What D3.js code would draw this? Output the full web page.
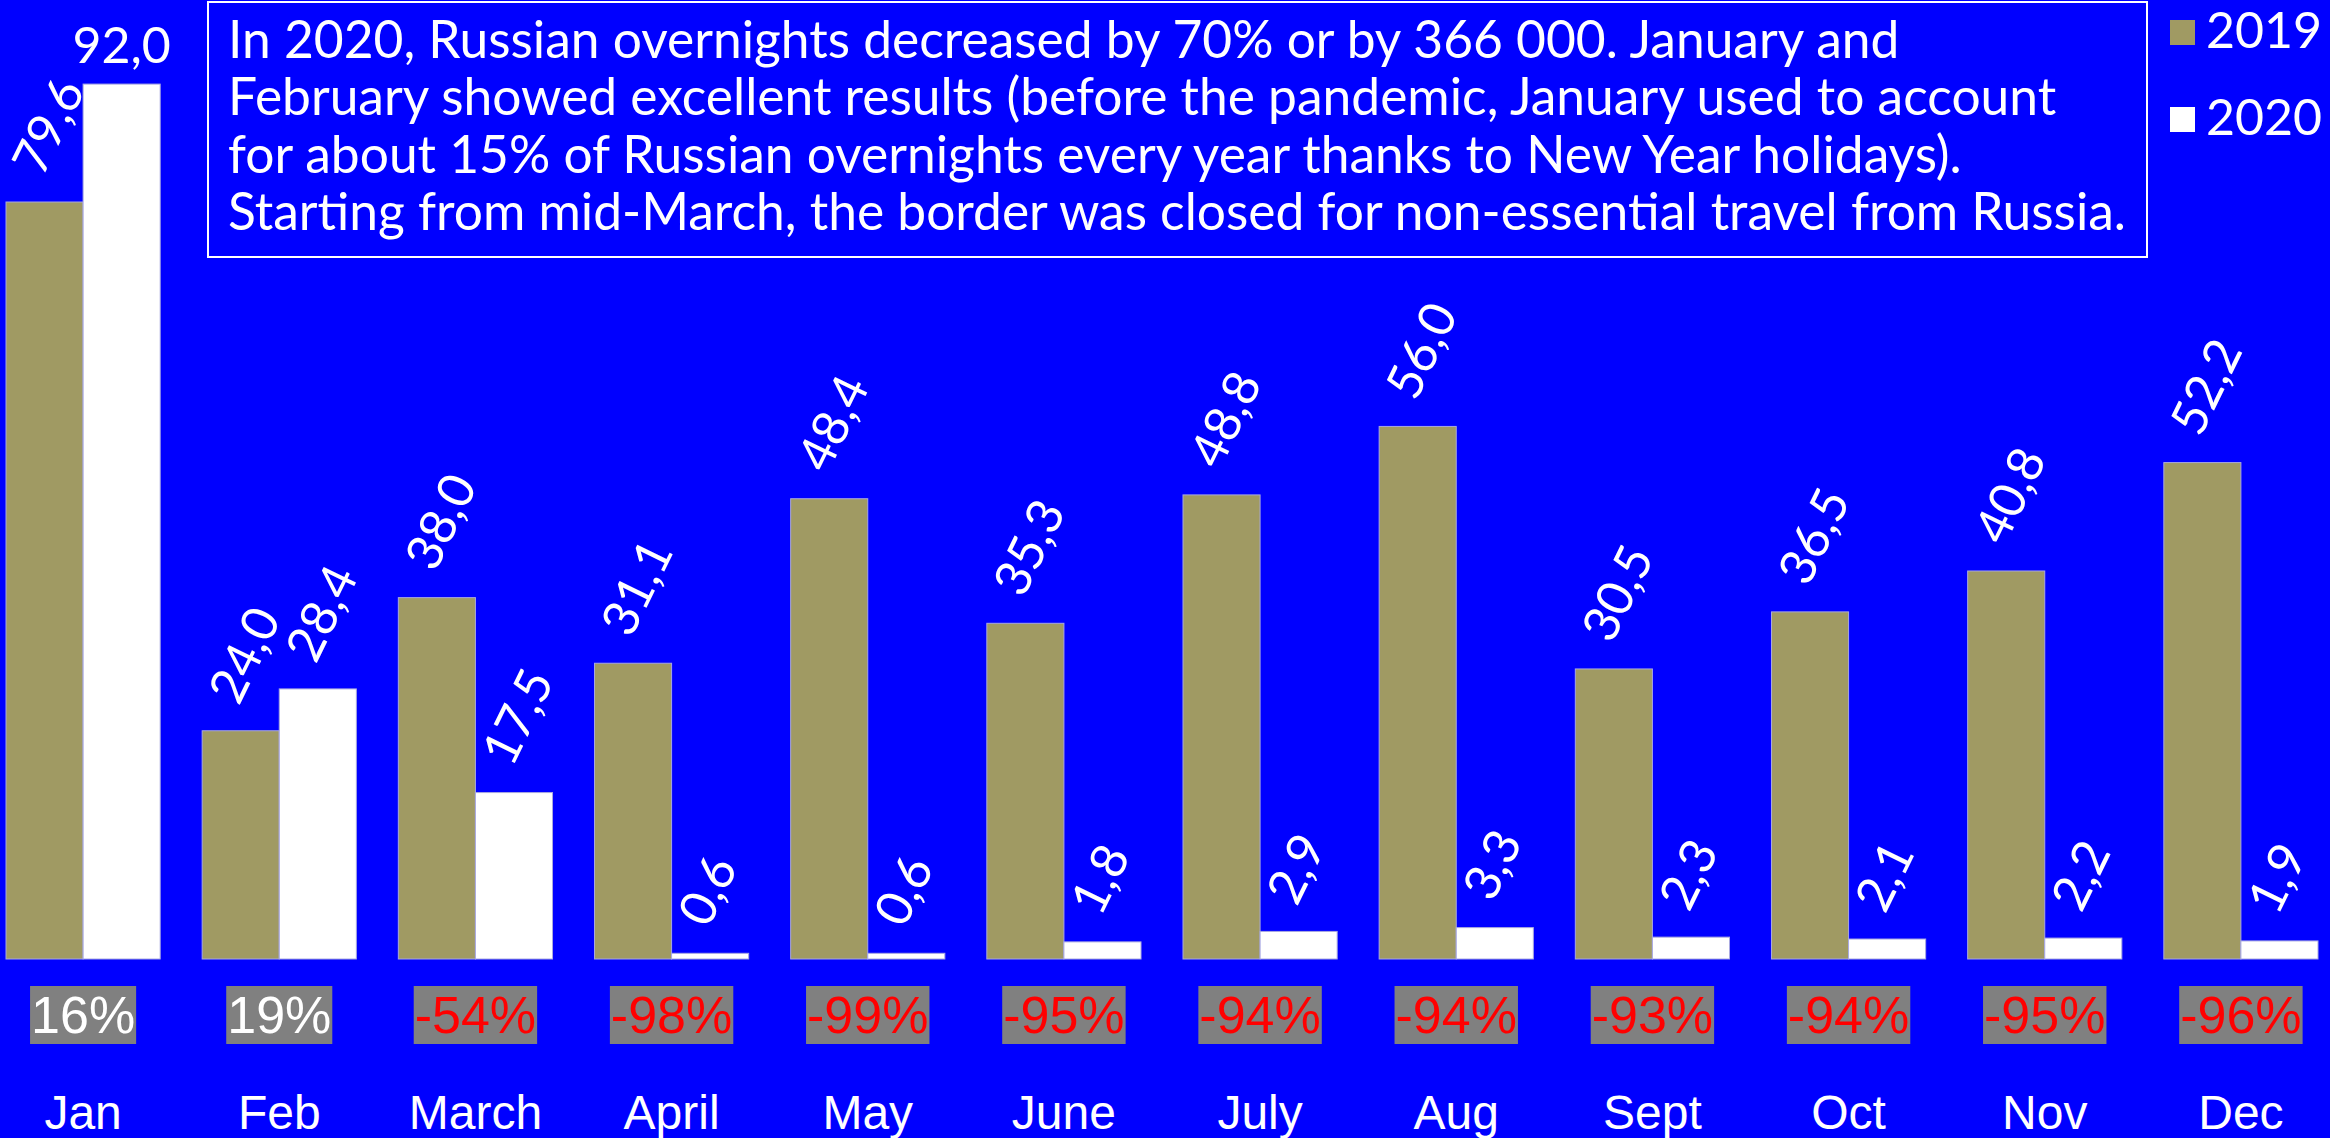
<!DOCTYPE html>
<html>
<head>
<meta charset="utf-8">
<script src="https://cdn.jsdelivr.net/npm/d3@7"></script>
<style>
  html, body { margin: 0; padding: 0; background: #0000ff; overflow: hidden; }
  svg { display: block; }
</style>
</head>
<body>
<svg id="chart" width="2330" height="1138"></svg>
<script>
const months = ["Jan","Feb","March","April","May","June","July","Aug","Sept","Oct","Nov","Dec"];
const seriesNames = ["2019","2020"];
const values2019 = [79.6, 24.0, 38.0, 31.1, 48.4, 35.3, 48.8, 56.0, 30.5, 36.5, 40.8, 52.2];
const values2020 = [92.0, 28.4, 17.5, 0.6, 0.6, 1.8, 2.9, 3.3, 2.3, 2.1, 2.2, 1.9];
const changes = [16, 19, -54, -98, -99, -95, -94, -94, -93, -94, -95, -96];
const noteLines = [
  "In 2020, Russian overnights decreased by 70% or by 366 000. January and",
  "February showed excellent results (before the pandemic, January used to account",
  "for about 15% of Russian overnights every year thanks to New Year holidays).",
  "Starting from mid-March, the border was closed for non-essential travel from Russia."
];

const colors = { "2019": "#a09a63", "2020": "#ffffff" };
const BG = "#0000ff";
const geo = "Lato, 'Open Sans', sans-serif";
const arial = "'Liberation Sans', Arial, sans-serif";

const svg = d3.select("#chart");
svg.append("rect").attr("width", 2330).attr("height", 1138).attr("fill", BG);

const x0 = d3.scaleBand().domain(months).range([6, 2318]).paddingInner(0.214).paddingOuter(0);
const x1 = d3.scaleBand().domain(seriesNames).range([0, x0.bandwidth()]).padding(0);
const y = d3.scaleLinear().domain([0, 100]).range([959, 8]);

const rows = months.map((m, i) => ({ month: m, vals: [
  { key: "2019", value: values2019[i] },
  { key: "2020", value: values2020[i] }
], change: changes[i] }));

const groups = svg.append("g").selectAll("g.grp").data(rows).join("g")
  .attr("class", "grp")
  .attr("transform", d => `translate(${x0(d.month)},0)`);

groups.selectAll("rect").data(d => d.vals).join("rect")
  .attr("x", d => x1(d.key))
  .attr("y", d => y(d.value))
  .attr("width", x1.bandwidth())
  .attr("height", d => y(0) - y(d.value))
  .attr("fill", d => colors[d.key])
  .attr("stroke", "#a8a8e0")
  .attr("stroke-width", 1);

const fmt = v => d3.format(".1f")(v).replace(".", ",");

groups.selectAll("text.val").data(d => d.vals).join("text")
  .attr("class", "val")
  .attr("fill", "#fff")
  .attr("font-family", geo)
  .attr("font-size", 50)
  .each(function(d) {
    const cx = x1(d.key) + x1.bandwidth() / 2;
    const top = y(d.value);
    const t = d3.select(this).text(fmt(d.value));
    if (top - 110 < 0) {
      t.attr("text-anchor", "middle").attr("x", cx).attr("y", top - 21);
    } else {
      t.attr("text-anchor", "start")
       .attr("transform", `translate(${cx - 2},${top - 24}) rotate(-64)`);
    }
  });

// change labels
groups.each(function(d) {
  const g = d3.select(this);
  const cx = x0.bandwidth() / 2;
  const bg = g.append("rect").attr("fill", "#808080");
  const t = g.append("text")
    .attr("x", cx).attr("y", 1033)
    .attr("text-anchor", "middle")
    .attr("font-family", arial)
    .attr("font-size", 52)
    .attr("fill", d.change >= 0 ? "#ffffff" : "#ff0000")
    .text(d.change + "%");
  const bb = t.node().getBBox();
  bg.attr("x", bb.x - 1).attr("y", bb.y).attr("width", bb.width + 2).attr("height", bb.height);
});

// month axis labels
groups.append("text")
  .attr("x", x0.bandwidth() / 2).attr("y", 1129)
  .attr("text-anchor", "middle")
  .attr("font-family", arial)
  .attr("font-size", 48)
  .attr("fill", "#fff")
  .text(d => d.month);

// note box
svg.append("rect").attr("x", 208).attr("y", 2).attr("width", 1939).attr("height", 255)
  .attr("fill", BG).attr("stroke", "#fff").attr("stroke-width", 2);
svg.append("g").selectAll("text").data(noteLines).join("text")
  .attr("x", 228).attr("y", (d, i) => 58 + i * 57.3)
  .attr("font-family", geo).attr("font-size", 51.5).attr("fill", "#fff")
  .text(d => d);

// legend
const leg = svg.append("g").selectAll("g").data(seriesNames).join("g")
  .attr("transform", (d, i) => `translate(2170,${20 + i * 87})`);
leg.append("rect").attr("width", 25).attr("height", 25).attr("fill", d => colors[d]);
leg.append("text").attr("x", 36).attr("y", 28).attr("font-family", geo).attr("font-size", 50)
  .attr("fill", "#fff").text(d => d);
</script>
</body>
</html>
